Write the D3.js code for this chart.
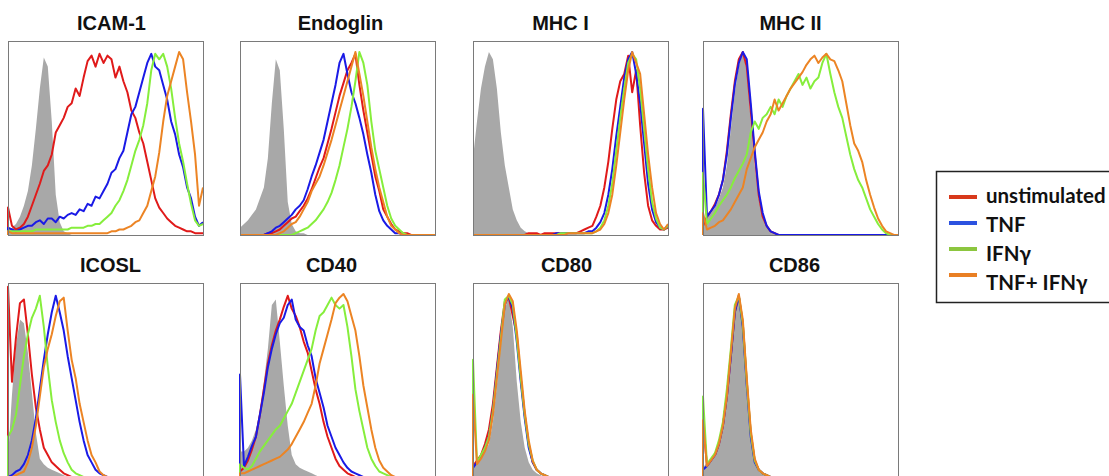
<!DOCTYPE html>
<html>
<head>
<meta charset="utf-8">
<script src="https://cdn.jsdelivr.net/npm/d3@7"></script>
<style>
  body { margin: 0; background: #fff; }
  svg { display: block; }
</style>
</head>
<body>
<svg id="chart" width="1109" height="476"></svg>
<script>
// Flow cytometry overlays: isotype control (grey) vs four stimulation conditions.
// Each series is a 50-bin histogram (log fluorescence), in % of the panel's tallest peak.

const markers = ["ICAM-1", "Endoglin", "MHC I", "MHC II", "ICOSL", "CD40", "CD80", "CD86"];
const conditions = ["unstimulated", "TNF", "IFNγ", "TNF+ IFNγ"];

// ICAM-1
const icam1Iso    = [3,4,6,10,16,24,38,58,80,97, 92,62,22,7,2,1,0,0,0,0, 0,0,0,0,0,0,0,0,0,0, 0,0,0,0,0,0,0,0,0,0, 0,0,0,0,0,0,0,0,0,0];
const icam1Unstim = [15,5,3,4,6,10,16,22,28,35, 38,44,56,60,64,70,72,80,76,86, 95,98,92,99,94,98,96,86,92,84, 78,68,64,56,50,40,30,20,15,12, 9,7,5,4,3,2,2,1,1,1];
const icam1Tnf    = [4,3,2,3,4,5,5,7,8,6, 9,9,7,10,9,11,12,11,14,13, 17,16,21,20,24,28,34,36,42,46, 56,66,70,78,86,94,99,92,90,82, 74,62,55,44,37,26,20,10,5,7];
const icam1Ifng   = [2,2,2,2,2,2,2,3,3,3, 3,3,3,3,3,3,4,4,4,4, 5,5,6,6,8,10,12,16,19,24, 30,38,46,52,60,72,90,99,96,99, 92,80,64,50,40,28,17,8,5,6];
const icam1Both   = [2,1,1,1,1,1,1,1,1,1, 1,1,1,1,1,1,1,1,1,1, 1,1,1,1,1,1,2,2,3,3, 4,5,7,8,12,16,24,32,45,62, 76,84,92,100,96,78,62,44,16,26];

// Endoglin
const endoIso     = [4,6,8,11,14,20,26,42,72,96, 90,58,18,6,2,1,1,0,0,0, 0,0,0,0,0,0,0,0,0,0, 0,0,0,0,0,0,0,0,0,0, 0,0,0,0,0,0,0,0,0,0];
const endoUnstim  = [0,0,0,0,0,0,0,1,1,2, 3,5,7,9,10,13,16,20,25,31, 37,42,50,58,67,76,83,90,94,99, 82,68,56,44,32,24,14,10,6,3, 2,1,1,0,0,0,0,0,0,0];
const endoTnf     = [0,0,0,0,0,0,0,1,2,4, 5,7,9,11,14,16,19,25,32,38, 45,52,62,72,82,94,99,88,78,72, 64,55,44,34,22,13,8,5,3,1, 1,0,0,0,0,0,0,0,0,0];
const endoIfng    = [0,0,0,0,0,0,0,0,0,0, 0,0,0,0,1,2,3,4,6,8, 11,14,18,23,30,38,48,58,70,84, 100,94,82,62,46,36,26,16,9,5, 3,1,0,0,0,0,0,0,0,0];
const endoBoth    = [0,0,0,0,0,0,0,0,0,0, 1,2,4,6,7,10,14,18,24,28, 32,38,45,52,60,68,76,84,92,100, 88,76,62,48,36,26,18,10,5,3, 1,0,0,0,0,0,0,0,0,0];

// MHC I
const mhc1Iso     = [42,62,80,92,100,96,80,56,38,26, 14,8,4,2,1,0,0,0,0,0, 0,0,0,0,0,0,0,0,0,0, 0,0,0,0,0,0,0,0,0,0, 0,0,0,0,0,0,0,0,0,0];
const mhc1Unstim  = [0,0,0,0,0,0,0,0,0,0, 0,0,0,0,1,1,1,0,1,1, 1,1,1,1,1,1,1,2,3,4, 5,10,16,26,40,58,74,84,88,98, 78,90,60,34,16,8,5,3,3,4];
const mhc1Tnf     = [0,0,0,0,0,0,0,0,0,0, 0,0,0,0,0,0,0,0,0,0, 0,1,1,1,1,1,1,1,1,2, 2,4,7,12,22,36,54,70,86,96, 100,88,72,50,28,14,7,4,3,5];
const mhc1Ifng    = [0,0,0,0,0,0,0,0,0,0, 0,0,0,0,0,0,0,0,0,0, 0,0,1,1,1,1,1,1,1,1, 1,2,4,8,16,28,46,64,80,94, 99,96,80,58,36,18,9,4,3,5];
const mhc1Both    = [0,0,0,0,0,0,0,0,0,0, 0,0,0,0,0,0,0,0,0,0, 0,0,0,0,1,1,1,1,1,1, 1,2,3,6,12,22,38,56,74,90, 100,94,88,66,44,26,12,6,3,6];

// MHC II
const mhc2Iso     = [8,10,12,15,20,26,38,58,78,92, 100,90,62,38,20,10,5,2,1,0, 0,0,0,0,0,0,0,0,0,0, 0,0,0,0,0,0,0,0,0,0, 0,0,0,0,0,0,0,0,0,0];
const mhc2Unstim  = [5,10,13,17,22,30,46,66,84,96, 100,92,68,44,22,10,5,2,1,0, 0,0,0,0,0,0,0,0,0,0, 0,0,0,0,0,0,0,0,0,0, 0,0,0,0,0,0,0,0,0,0];
const mhc2Tnf     = [69,10,13,16,22,30,44,64,82,94, 100,96,72,46,24,12,5,2,1,0, 0,0,0,0,0,0,0,0,0,0, 0,0,0,0,0,0,0,0,0,0, 0,0,0,0,0,0,0,0,0,0];
const mhc2Ifng    = [34,6,9,12,16,19,22,26,31,35, 39,44,56,62,58,64,66,70,66,74, 70,76,80,84,88,82,86,80,84,86, 94,99,88,78,70,64,54,44,36,30, 26,20,14,10,6,3,1,0,0,0];
const mhc2Both    = [12,3,4,5,7,8,11,14,18,22, 26,36,42,48,52,56,62,66,74,68, 72,76,80,83,86,89,93,96,98,94, 97,99,96,95,90,84,72,60,50,46, 40,30,22,15,9,5,2,1,0,0];

// ICOSL
const icoslIso    = [10,45,72,86,84,68,46,24,10,7, 5,4,3,2,1,0,0,0,0,0, 0,0,0,0,0,0,0,0,0,0, 0,0,0,0,0,0,0,0,0,0, 0,0,0,0,0,0,0,0,0,0];
const icoslUnstim = [104,52,76,95,97,78,56,38,26,16, 12,8,6,4,2,1,0,0,0,0, 0,0,0,0,0,0,0,0,0,0, 0,0,0,0,0,0,0,0,0,0, 0,0,0,0,0,0,0,0,0,0];
const icoslTnf    = [0,1,3,4,7,12,20,32,48,64, 78,90,99,90,80,66,54,42,30,20, 12,8,4,2,1,0,0,0,0,0, 0,0,0,0,0,0,0,0,0,0, 0,0,0,0,0,0,0,0,0,0];
const icoslIfng   = [22,26,34,50,66,78,87,92,99,82, 60,42,30,20,13,8,4,2,1,0, 0,0,0,0,0,0,0,0,0,0, 0,0,0,0,0,0,0,0,0,0, 0,0,0,0,0,0,0,0,0,0];
const icoslBoth   = [0,0,1,2,3,8,16,28,44,60, 70,78,88,96,98,80,64,54,40,30, 20,12,8,3,1,0,0,0,0,0, 0,0,0,0,0,0,0,0,0,0, 0,0,0,0,0,0,0,0,0,0];

// CD40
const cd40Iso     = [14,14,16,20,26,36,52,70,94,97, 74,50,28,12,7,5,4,3,2,1, 0,0,0,0,0,0,0,0,0,0, 0,0,0,0,0,0,0,0,0,0, 0,0,0,0,0,0,0,0,0,0];
const cd40Unstim  = [3,5,9,15,22,34,48,62,72,80, 86,93,99,92,88,82,74,68,58,48, 40,30,22,16,10,6,4,2,1,0, 0,0,0,0,0,0,0,0,0,0, 0,0,0,0,0,0,0,0,0,0];
const cd40Tnf     = [56,6,11,17,22,34,46,60,70,78, 84,87,94,97,86,82,80,72,66,54, 46,38,28,22,16,12,8,5,3,2, 1,0,0,0,0,0,0,0,0,0, 0,0,0,0,0,0,0,0,0,0];
const cd40Ifng    = [7,5,4,6,10,14,17,20,23,26, 28,32,36,40,46,52,58,64,70,80, 88,90,94,98,94,92,94,82,66,48, 36,26,16,10,6,3,2,1,0,0, 0,0,0,0,0,0,0,0,0,0];
const cd40Both    = [2,2,3,4,5,6,7,8,9,10, 11,13,15,18,22,26,30,35,40,50, 62,70,78,86,95,98,100,96,88,80, 66,50,38,26,16,9,5,3,1,0, 0,0,0,0,0,0,0,0,0,0];

// CD80
const cd80Iso     = [6,8,10,14,18,30,50,72,92,98, 82,52,30,16,8,4,2,1,0,0, 0,0,0,0,0,0,0,0,0,0, 0,0,0,0,0,0,0,0,0,0, 0,0,0,0,0,0,0,0,0,0];
const cd80Unstim  = [6,9,12,18,26,40,60,80,96,98, 88,78,54,34,18,8,4,2,1,0, 0,0,0,0,0,0,0,0,0,0, 0,0,0,0,0,0,0,0,0,0, 0,0,0,0,0,0,0,0,0,0];
const cd80Tnf     = [5,8,11,16,22,36,58,78,94,99, 92,74,52,32,16,8,4,2,1,0, 0,0,0,0,0,0,0,0,0,0, 0,0,0,0,0,0,0,0,0,0, 0,0,0,0,0,0,0,0,0,0];
const cd80Ifng    = [64,8,12,16,22,36,56,76,97,99, 94,76,54,34,18,9,4,2,1,0, 0,0,0,0,0,0,0,0,0,0, 0,0,0,0,0,0,0,0,0,0, 0,0,0,0,0,0,0,0,0,0];
const cd80Both    = [45,7,10,14,20,34,54,74,94,100, 96,80,58,36,20,9,4,2,1,0, 0,0,0,0,0,0,0,0,0,0, 0,0,0,0,0,0,0,0,0,0, 0,0,0,0,0,0,0,0,0,0];

// CD86
const cd86Iso     = [5,8,10,14,20,32,50,70,92,99, 80,44,20,8,4,2,1,0,0,0, 0,0,0,0,0,0,0,0,0,0, 0,0,0,0,0,0,0,0,0,0, 0,0,0,0,0,0,0,0,0,0];
const cd86Unstim  = [31,6,9,12,18,28,44,66,90,99, 84,52,24,9,4,2,1,0,0,0, 0,0,0,0,0,0,0,0,0,0, 0,0,0,0,0,0,0,0,0,0, 0,0,0,0,0,0,0,0,0,0];
const cd86Tnf     = [4,6,9,12,18,28,44,66,90,99, 82,50,22,8,4,2,1,0,0,0, 0,0,0,0,0,0,0,0,0,0, 0,0,0,0,0,0,0,0,0,0, 0,0,0,0,0,0,0,0,0,0];
const cd86Ifng    = [44,7,10,13,20,30,48,70,94,99, 84,52,24,9,4,2,1,0,0,0, 0,0,0,0,0,0,0,0,0,0, 0,0,0,0,0,0,0,0,0,0, 0,0,0,0,0,0,0,0,0,0];
const cd86Both    = [31,6,9,12,18,28,44,68,92,100, 86,54,26,10,4,2,1,0,0,0, 0,0,0,0,0,0,0,0,0,0, 0,0,0,0,0,0,0,0,0,0, 0,0,0,0,0,0,0,0,0,0];

const isotypes = [icam1Iso, endoIso, mhc1Iso, mhc2Iso, icoslIso, cd40Iso, cd80Iso, cd86Iso];
const stimulated = [
  [icam1Unstim, icam1Tnf, icam1Ifng, icam1Both],
  [endoUnstim, endoTnf, endoIfng, endoBoth],
  [mhc1Unstim, mhc1Tnf, mhc1Ifng, mhc1Both],
  [mhc2Unstim, mhc2Tnf, mhc2Ifng, mhc2Both],
  [icoslUnstim, icoslTnf, icoslIfng, icoslBoth],
  [cd40Unstim, cd40Tnf, cd40Ifng, cd40Both],
  [cd80Unstim, cd80Tnf, cd80Ifng, cd80Both],
  [cd86Unstim, cd86Tnf, cd86Ifng, cd86Both]
];

// colours
const lineColours = ["#e01a1a", "#1a1ae6", "#86ee3c", "#ec8424"];
const legendColours = ["#d8391b", "#2c52e0", "#8cc63f", "#e97f24"];
const isoFill = "#a8a8a8";

// layout
const panelW = 195, panelH = 194;
const colX = [8, 240, 473, 703];
const rowY = [41, 283];
const titleNudge = [6, 3, -10, -10, 5, -6, -4, -6];

const svg = d3.select("#chart");

const nBins = icam1Iso.length;
const x = d3.scaleLinear().domain([0, nBins - 1]).range([0, panelW]);
const y = d3.scaleLinear().domain([0, 106]).range([panelH, 0]);

const area = d3.area()
  .x((d, i) => x(i))
  .y0(y(0))
  .y1(d => y(d));

// histograms start from the baseline, like the cytometer's own overlay
const line = d3.line()
  .x(d => x(d[0]))
  .y(d => y(d[1]));
const toPoints = values => [[0, 0]].concat(values.map((v, i) => [i, v]));

markers.forEach((name, p) => {
  const col = p % 4, row = Math.floor(p / 4);
  const g = svg.append("g").attr("transform", `translate(${colX[col]},${rowY[row]})`);

  g.append("clipPath").attr("id", "clip" + p)
    .append("rect").attr("x", -1).attr("y", -1).attr("width", panelW + 2).attr("height", panelH + 2);

  const plot = g.append("g").attr("clip-path", `url(#clip${p})`);

  plot.append("path")
    .attr("d", area(isotypes[p]))
    .attr("fill", isoFill);

  stimulated[p].forEach((series, c) => {
    plot.append("path")
      .attr("d", line(toPoints(series)))
      .attr("fill", "none")
      .attr("stroke", lineColours[c])
      .attr("stroke-width", 2)
      .attr("stroke-linejoin", "round");
  });

  g.append("rect")
    .attr("x", 0.5).attr("y", 0.5)
    .attr("width", panelW).attr("height", panelH)
    .attr("fill", "none")
    .attr("stroke", "#7a7a7a")
    .attr("stroke-width", 1);

  g.append("text")
    .attr("x", panelW / 2 + titleNudge[p])
    .attr("y", -11)
    .attr("text-anchor", "middle")
    .attr("font-family", "Liberation Sans, Arial, sans-serif")
    .attr("font-weight", "bold")
    .attr("font-size", 20)
    .attr("fill", "#111")
    .text(name);
});

// legend
const legend = svg.append("g");
legend.append("rect")
  .attr("x", 936.5).attr("y", 171.5)
  .attr("width", 190).attr("height", 131)
  .attr("fill", "#fff")
  .attr("stroke", "#222")
  .attr("stroke-width", 1.5);

conditions.forEach((label, c) => {
  const ly = 197 + c * 26;
  legend.append("line")
    .attr("x1", 949).attr("x2", 977)
    .attr("y1", ly).attr("y2", ly)
    .attr("stroke", legendColours[c])
    .attr("stroke-width", 4);
  legend.append("text")
    .attr("x", 986)
    .attr("y", 203 + c * 29)
    .attr("font-family", "Lato, 'Open Sans', sans-serif")
    .attr("font-weight", "bold")
    .attr("font-size", 20.5)
    .attr("fill", "#111")
    .text(label);
});
</script>
</body>
</html>
